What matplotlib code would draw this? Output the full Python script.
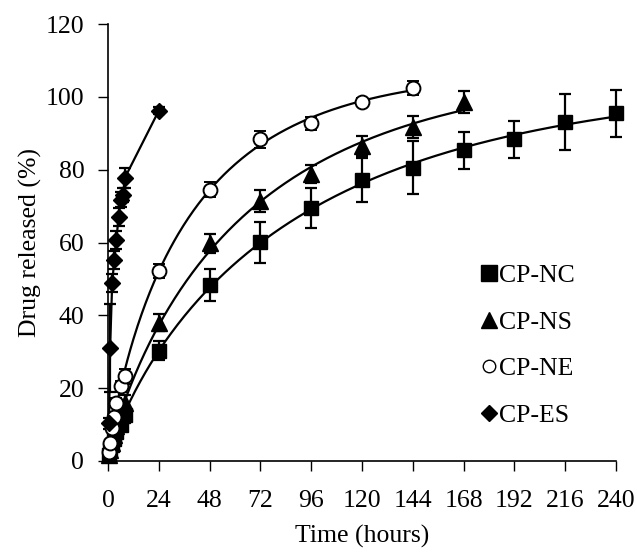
import numpy as np
import matplotlib
matplotlib.use("Agg")
import matplotlib.pyplot as plt

plt.rcParams["font.family"] = ["Liberation Serif", "DejaVu Serif"]
plt.rcParams["font.size"] = 18.5

# ---------------------------------------------------------------------------
# Data
# ---------------------------------------------------------------------------
t_nc = [0.5, 1, 2, 3, 4, 6, 8, 24, 48, 72, 96, 120, 144, 168, 192, 216, 240]
y_nc = [1.5, 3, 4.5, 6, 8, 10, 12.5, 30.3, 48.3, 60.1, 69.5, 77.2, 80.6, 85.3, 88.3, 93.0, 95.5]
e_nc = [0.5, 0.8, 1, 1, 1.2, 1.5, 2, 2.6, 4.5, 5.6, 5.5, 6.1, 7.2, 5.0, 5.0, 7.7, 6.4]

t_ns = [0.5, 1, 2, 3, 4, 6, 8, 24, 48, 72, 96, 120, 144, 168]
y_ns = [1.5, 3, 5, 7, 9.5, 12.5, 16, 38, 59.8, 71.3, 78.8, 86.5, 91.8, 98.5]
e_ns = [0.5, 0.8, 1, 1, 1.2, 1.5, 2, 2.3, 2.6, 3.0, 2.5, 2.7, 3.0, 3.0]

t_ne = [0.5, 1, 2, 3, 4, 6, 8, 24, 48, 72, 96, 120, 144]
y_ne = [2.5, 5, 9, 12, 16, 20.5, 23.2, 52.2, 74.5, 88.3, 92.8, 98.6, 102.4]
e_ne = [0.5, 0.8, 1, 1, 1.2, 1.5, 2, 2.0, 2.0, 2.2, 1.8, 1.2, 2.0]

t_es = [0.5, 1, 2, 3, 4, 5, 6, 7, 8, 24]
y_es = [10.4, 31, 48.9, 55.3, 60.8, 67.1, 71.8, 73.0, 77.8, 96.2]
e_es = [1.5, 12, 2.5, 2.5, 2.5, 2.5, 2.0, 2.0, 2.8, 1.0]

labels = ["CP-NC", "CP-NS", "CP-NE", "CP-ES"]


def fit_weibull(t, y):
    """Least-squares fit of y = A * (1 - exp(-(k t)^b)) by grid search."""
    t = np.asarray(t, dtype=float)
    y = np.asarray(y, dtype=float)
    best = None
    for b in np.linspace(0.5, 1.6, 111):
        for k in np.logspace(-3, -0.5, 400):
            g = 1 - np.exp(-(k * t) ** b)
            a = np.dot(y, g) / np.dot(g, g)
            sse = np.sum((y - a * g) ** 2)
            if best is None or sse < best[0]:
                best = (sse, a, k, b)
    _, a, k, b = best
    return lambda tt: a * (1 - np.exp(-(k * tt) ** b))


fig = plt.figure(figsize=(6.37, 5.54), dpi=100)
ax = fig.add_axes([0.1695, 0.168, 0.7975, 0.7885])

ebkw = dict(color="black", ecolor="black", elinewidth=1.6, capsize=4.5,
            capthick=1.6, linestyle="none", clip_on=False, zorder=3)

# Fitted release curves
for t, y in [(t_nc, y_nc), (t_ns, y_ns), (t_ne, y_ne)]:
    f = fit_weibull(t, y)
    tt = np.linspace(0, max(t), 300)
    ax.plot(tt, f(tt), color="black", lw=1.6, zorder=2)

ax.errorbar(t_nc, y_nc, yerr=e_nc, marker="s", ms=10.5, mfc="black",
            mec="black", label=labels[0], **ebkw)
ax.errorbar(t_ns, y_ns, yerr=e_ns, marker="^", ms=11, mfc="black",
            mec="black", label=labels[1], **ebkw)
ax.errorbar(t_ne, y_ne, yerr=e_ne, marker="o", ms=10, mfc="white",
            mec="black", mew=1.4, label=labels[2], **ebkw)
ax.errorbar(t_es, y_es, yerr=e_es, marker="D", ms=8, mfc="black",
            mec="black", label=labels[3], **ebkw)
ax.plot(t_es, y_es, color="black", lw=1.6, zorder=2)

ax.set_xlim(0, 240)
ax.set_ylim(0, 120)
ax.set_xticks(np.arange(0, 241, 24))
ax.set_yticks(np.arange(0, 121, 20))
ax.tick_params(direction="out", length=7, width=1)
ax.tick_params(axis="x", pad=14)
ax.tick_params(axis="y", pad=10)
for side in ["top", "right"]:
    ax.spines[side].set_visible(False)
for side in ["left", "bottom"]:
    ax.spines[side].set_linewidth(1.2)

ax.set_xlabel("Time (hours)", labelpad=9)
ax.set_ylabel("Drug released (%)", labelpad=3)

handles = [plt.Line2D([], [], marker=m, color="black", mfc=fc, mec="black",
                      ms=s, linestyle="none")
           for m, fc, s in [("s", "black", 11), ("^", "black", 11),
                            ("o", "white", 9), ("D", "black", 8)]]
ax.legend(handles, labels, loc="upper left", bbox_to_anchor=(0.71, 0.48),
          frameon=False, handlelength=0.6, handletextpad=0.1,
          labelspacing=0.92, borderpad=0)

fig.savefig("out.png", dpi=100)
